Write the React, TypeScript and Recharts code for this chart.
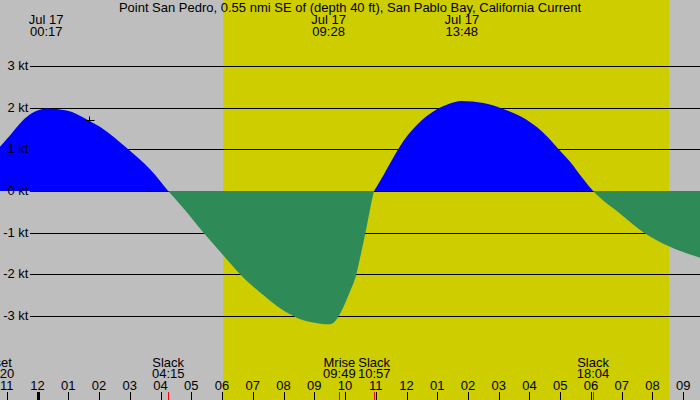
import React from 'react';
import { ComposedChart, Area, XAxis, YAxis, CartesianGrid, ReferenceDot } from 'recharts';

const TITLE = 'Point San Pedro, 0.55 nmi SE of (depth 40 ft), San Pablo Bay, California Current';

// Time axis in hours from midnight, Jul 17 (negative = previous evening)
const VIEW_START = -1.22;
const VIEW_END = 21.545;
const SPEED_MIN = -5.016;
const SPEED_MAX = 4.584;

// Current speed in knots (positive = flood, negative = ebb)
const hours = [
  -1.22, -0.89, -0.57, -0.24, 0.08, 0.3, 0.95, 1.65, 2.03, 2.95, 3.66, 4.25,
  4.8, 5.42, 5.99, 6.62, 7.4, 7.94, 8.43, 8.92, 9.47, 9.63, 9.78, 10.0, 10.16,
  10.36, 10.52, 10.66, 10.81, 10.95, 11.02, 11.25, 11.5, 11.9, 12.33, 12.66, 13.31, 13.8,
  14.5, 15.1, 15.69, 16.45, 16.94, 17.32, 17.53, 18.07, 18.94, 19.76, 20.57, 21.545,
];
const knots = [
  1.06, 1.34, 1.62, 1.84, 1.95, 1.98, 1.93, 1.7, 1.54, 1.0, 0.52, 0,
  -0.46, -1.02, -1.5, -2.02, -2.53, -2.84, -3.04, -3.15, -3.2, -3.16, -3.02, -2.7, -2.42,
  -2.02, -1.5, -1.02, -0.46, 0, 0.09, 0.38, 0.71, 1.2, 1.58, 1.8, 2.07, 2.16,
  2.11, 1.98, 1.8, 1.4, 1.01, 0.7, 0.5, 0, -0.54, -1.02, -1.34, -1.6,
];

const hourTicks = [-1, 0, 1, 2, 3, 4, 5, 6, 7, 8, 9, 10, 11, 12, 13, 14, 15, 16, 17, 18, 19, 20, 21];
const hourLabels = ['11', '12', '01', '02', '03', '04', '05', '06', '07', '08', '09', '10', '11', '12', '01', '02', '03', '04', '05', '06', '07', '08', '09'];

const speedTicks = [-3, -2, -1, 0, 1, 2, 3];
const speedLabels = ['-3 kt', '-2 kt', '-1 kt', '0 kt', '1 kt', '2 kt', '3 kt'];

// Maximum flood / ebb times
const peakTimes = [0.283, 9.467, 13.8];
const peakDates = ['Jul 17', 'Jul 17', 'Jul 17'];
const peakClocks = ['00:17', '09:28', '13:48'];

// Slack water and moon events
const eventTimes = [-1.29, 4.25, 9.817, 10.95, 18.067];
const eventNames = ['Mset', 'Slack', 'Mrise', 'Slack', 'Slack'];
const eventClocks = ['23:20', '04:15', '09:49', '10:57', '18:04'];

// Sunrise and sunset
const sunTimes = [6.03, 20.54];

// Current-time marker
const nowTime = 1.675;
const nowSpeed = 1.7;

const NIGHT = '#bebebe';
const DAY = '#cdcd00';
const FLOOD = '#0000ff';
const EBB = '#2e8b57';

const rows = hours.map((t, i) => ({ t, speed: knots[i] }));

const W = 700;
const H = 400;
const ZERO_OFFSET = SPEED_MAX / (SPEED_MAX - SPEED_MIN);

const HourTick = (props: any) => {
  const { x, payload } = props;
  const i = hourTicks.indexOf(payload.value);
  const midnight = payload.value % 24 === 0;
  const px = Math.round(x) + 0.5;
  return (
    <g>
      <line x1={px} x2={px} y1={392} y2={H} stroke="#000" strokeWidth={midnight ? 3 : 1} />
      <text x={x} y={390} textAnchor="middle" fill="#000">{hourLabels[i]}</text>
    </g>
  );
};

const EventTick = (props: any) => {
  const { x, payload } = props;
  const i = eventTimes.findIndex((v) => Math.abs(v - payload.value) < 1e-6);
  const px = Math.round(x) + 0.5;
  return (
    <g>
      <line x1={px} x2={px} y1={392} y2={H} stroke="#ff0000" strokeWidth={1} />
      <text x={x} y={367} textAnchor="middle" fill="#000">{eventNames[i]}</text>
      <text x={x} y={378} textAnchor="middle" fill="#000">{eventClocks[i]}</text>
    </g>
  );
};

const PeakTick = (props: any) => {
  const { x, payload } = props;
  const i = peakTimes.findIndex((v) => Math.abs(v - payload.value) < 1e-6);
  return (
    <g>
      <text x={x} y={24} textAnchor="middle" fill="#000">{peakDates[i]}</text>
      <text x={x} y={36} textAnchor="middle" fill="#000">{peakClocks[i]}</text>
    </g>
  );
};

const SpeedTick = (props: any) => {
  const { y, payload } = props;
  const i = speedTicks.indexOf(payload.value);
  return (
    <text x={28.5} y={y + 4} textAnchor="end" fill="#000">{speedLabels[i]}</text>
  );
};

// Knot lines start just right of the labels; the grid's own edge lines are skipped
const GridLine = (props: any) => {
  const { x1, x2, y1 } = props;
  if (!(y1 > 1 && y1 < H - 1)) return <g />;
  const yy = Math.round(y1) + 0.5;
  return <line x1={x1 + 30} x2={x2} y1={yy} y2={yy} stroke="#000" strokeWidth={1} />;
};

const PlusMark = (props: any) => {
  const { cx, cy } = props;
  const px = Math.round(cx) + 0.5;
  const py = Math.round(cy) + 0.5;
  return (
    <path d={`M${px - 4},${py}H${px + 5}M${px},${py - 4}V${py + 5}`} stroke="#000" strokeWidth={1} fill="none" />
  );
};

const sunEdges = ({ xAxis }: any) => {
  const s = xAxis && xAxis.scale;
  if (typeof s === 'function') return sunTimes.map((t) => s(t));
  if (s && typeof s.map === 'function') return sunTimes.map((t) => s.map(t));
  return [];
};

export default function App() {
  const xDomain: [number, number] = [VIEW_START, VIEW_END];
  return (
    <div
      style={{
        position: 'absolute',
        left: 0,
        top: 0,
        width: W,
        height: H,
        background: NIGHT,
        fontFamily: '"Liberation Sans", Arial, sans-serif',
        fontSize: 13,
        overflow: 'hidden',
      }}
    >
      <ComposedChart
        width={W}
        height={H}
        data={rows}
        margin={{ top: 0, right: 0, bottom: 0, left: 0 }}
        style={{ fontFamily: '"Liberation Sans", Arial, sans-serif', fontSize: 13 }}
      >
        <defs>
          <linearGradient id="flowFill" gradientUnits="userSpaceOnUse" x1={0} y1={0} x2={0} y2={H}>
            <stop offset={ZERO_OFFSET} stopColor={FLOOD} />
            <stop offset={ZERO_OFFSET} stopColor={EBB} />
          </linearGradient>
        </defs>
        <XAxis
          xAxisId="hours"
          dataKey="t"
          type="number"
          domain={xDomain}
          allowDataOverflow
          ticks={hourTicks}
          interval={0}
          mirror
          height={30}
          axisLine={false}
          tickLine={false}
          tick={<HourTick />}
        />
        <XAxis
          xAxisId="events"
          dataKey="t"
          type="number"
          domain={xDomain}
          allowDataOverflow
          ticks={eventTimes}
          interval={0}
          mirror
          height={30}
          axisLine={false}
          tickLine={false}
          tick={<EventTick />}
        />
        <XAxis
          xAxisId="peaks"
          dataKey="t"
          orientation="top"
          type="number"
          domain={xDomain}
          allowDataOverflow
          ticks={peakTimes}
          interval={0}
          mirror
          height={30}
          axisLine={false}
          tickLine={false}
          tick={<PeakTick />}
        />
        <YAxis
          yAxisId="kt"
          type="number"
          domain={[SPEED_MIN, SPEED_MAX]}
          allowDataOverflow
          ticks={speedTicks}
          interval={0}
          mirror
          width={40}
          axisLine={false}
          tickLine={false}
          tick={<SpeedTick />}
        />
        {/* night / day background bands */}
        <CartesianGrid
          xAxisId="hours"
          yAxisId="kt"
          horizontal={false}
          stroke="none"
          verticalCoordinatesGenerator={sunEdges}
          verticalFill={[NIGHT, DAY, NIGHT]}
          fillOpacity={1}
        />
        {/* knot lines */}
        <CartesianGrid
          xAxisId="hours"
          yAxisId="kt"
          vertical={false}
          horizontal={(p: any) => <GridLine key={p.key} {...p} />}
          stroke="#000"
        />
        <Area
          xAxisId="hours"
          yAxisId="kt"
          dataKey="speed"
          type="monotone"
          stroke="none"
          fill="url(#flowFill)"
          fillOpacity={1}
          baseValue={0}
          dot={false}
          activeDot={false}
          isAnimationActive={false}
        />
        <ReferenceDot
          xAxisId="hours"
          yAxisId="kt"
          x={nowTime}
          y={nowSpeed}
          shape={(p: any) => <PlusMark {...p} />}
        />
      </ComposedChart>
      <div
        style={{
          position: 'absolute',
          left: 0,
          top: 0,
          width: W,
          textAlign: 'center',
          lineHeight: '15px',
          color: '#000',
          pointerEvents: 'none',
        }}
      >
        {TITLE}
      </div>
    </div>
  );
}
